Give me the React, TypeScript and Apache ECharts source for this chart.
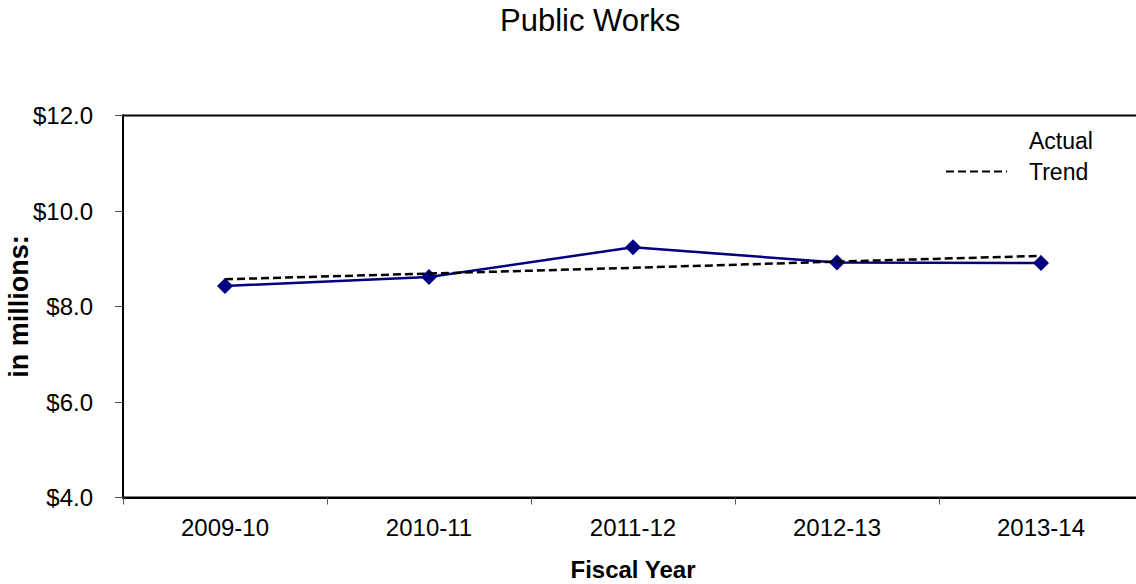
import React, { useEffect, useRef } from "react";
import * as echarts from "echarts";

// Fiscal years on the x axis
const fiscalYears = ["2009-10", "2010-11", "2011-12", "2012-13", "2013-14"];
// Actual spending, in millions of dollars
const actualValues = [8.43, 8.62, 9.24, 8.92, 8.91];
// Linear trend line, in millions of dollars
const trendValues = [8.57, 8.69, 8.81, 8.94, 9.06];
// Value axis range and step
const yMin = 4;
const yMax = 12;
const yStep = 2;

const FONT = "'Liberation Sans', Arial, Helvetica, sans-serif";

export default function App() {
  const ref = useRef<HTMLDivElement>(null);

  useEffect(() => {
    if (!ref.current) return;
    const chart = echarts.init(ref.current, undefined, { renderer: "svg" });
    chart.setOption({
      animation: false,
      backgroundColor: "#ffffff",
      textStyle: { fontFamily: FONT },
      title: {
        text: "Public Works",
        left: 500,
        top: 5,
        padding: 0,
        textStyle: { fontFamily: FONT, fontSize: 31, fontWeight: "normal", color: "#000" },
      },
      legend: {
        orient: "vertical",
        left: 945,
        top: 129,
        padding: 0,
        itemWidth: 61,
        itemHeight: 14,
        itemGap: 8,
        textStyle: { fontFamily: FONT, fontSize: 23, color: "#000", padding: [0, 0, 0, 17] },
        data: [
          { name: "Actual", icon: "rect", itemStyle: { opacity: 0 }, lineStyle: { opacity: 0 } },
          { name: "Trend", itemStyle: { opacity: 0 } },
        ],
      },
      grid: {
        left: 123,
        right: -7,
        top: 115.5,
        bottom: 86.5,
        outerBoundsMode: "none",
        containLabel: false,
        show: true,
        borderColor: "#000",
        borderWidth: 2,
        backgroundColor: "transparent",
      },
      xAxis: {
        type: "category",
        data: fiscalYears,
        boundaryGap: true,
        name: "Fiscal Year",
        nameLocation: "middle",
        nameGap: 60,
        nameMoveOverlap: false,
        nameTextStyle: { fontFamily: FONT, fontSize: 24, fontWeight: "bold", color: "#000" },
        axisLine: { show: true, lineStyle: { color: "#000", width: 2 } },
        axisTick: { show: true, alignWithLabel: false, length: 7, lineStyle: { color: "#555", width: 1 } },
        axisLabel: { margin: 18, fontFamily: FONT, fontSize: 24, color: "#000" },
        splitLine: { show: false },
      },
      yAxis: {
        type: "value",
        min: yMin,
        max: yMax,
        interval: yStep,
        name: "in millions:",
        nameLocation: "middle",
        nameGap: 91,
        nameRotate: 90,
        nameMoveOverlap: false,
        nameTextStyle: { fontFamily: FONT, fontSize: 27, fontWeight: "bold", color: "#000" },
        axisLine: { show: true, lineStyle: { color: "#000", width: 2 } },
        axisTick: { show: true, length: 8, lineStyle: { color: "#555", width: 1 } },
        axisLabel: {
          margin: 30,
          fontFamily: FONT,
          fontSize: 24,
          color: "#000",
          formatter: (v: number) => "$" + v.toFixed(1),
        },
        splitLine: { show: false },
      },
      series: [
        {
          name: "Actual",
          type: "line",
          data: actualValues,
          symbol: "diamond",
          symbolSize: 16,
          color: "#000080",
          lineStyle: { color: "#000080", width: 2.5 },
          itemStyle: { color: "#000080" },
          z: 2,
        },
        {
          name: "Trend",
          type: "line",
          data: trendValues,
          symbol: "none",
          color: "#000",
          lineStyle: { color: "#000", width: 2.5, type: [8, 4] },
          z: 3,
        },
      ],
    });
    return () => chart.dispose();
  }, []);

  return (
    <div
      ref={ref}
      style={{ position: "fixed", left: 0, top: 0, width: 1136, height: 584, background: "#fff" }}
    />
  );
}
